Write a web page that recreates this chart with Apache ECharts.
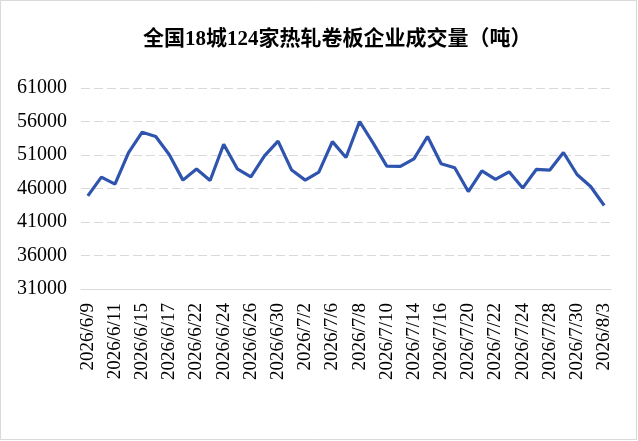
<!DOCTYPE html>
<html>
<head>
<meta charset="utf-8">
<script src="https://cdn.jsdelivr.net/npm/echarts@6/dist/echarts.min.js"></script>
<style>
html,body{margin:0;padding:0;background:#fff;}
#main{width:638px;height:441px;}
</style>
</head>
<body>
<div id="main"></div>
<script>
// 成交日期
var dates=['2026/6/9','2026/6/10','2026/6/11','2026/6/12','2026/6/15','2026/6/16','2026/6/17','2026/6/18',
 '2026/6/22','2026/6/23','2026/6/24','2026/6/25','2026/6/26','2026/6/29','2026/6/30',
 '2026/7/1','2026/7/2','2026/7/3','2026/7/6','2026/7/7','2026/7/8','2026/7/9','2026/7/10',
 '2026/7/13','2026/7/14','2026/7/15','2026/7/16','2026/7/17','2026/7/20','2026/7/21','2026/7/22',
 '2026/7/23','2026/7/24','2026/7/27','2026/7/28','2026/7/29','2026/7/30','2026/7/31','2026/8/3'];
// 成交量（吨）
var volume=[44900,47700,46650,51370,54400,53760,51030,47250,
 48900,47200,52600,48940,47750,50880,53070,
 48750,47250,48450,53000,50630,56000,52780,49340,
 49290,50430,53760,49690,49090,45550,48640,47350,
 48490,46060,48840,48750,51370,48090,46300,43460];
var yMin=31000, yMax=61000, yStep=5000;
var titleText='全国18城124家热轧卷板企业成交量（吨）';

var chart=echarts.init(document.getElementById('main'));
var option={
  animation:false,
  backgroundColor:'#fff',
  title:{
    text:titleText,
    left:138,
    top:24,
    textStyle:{fontFamily:'Liberation Serif, Noto Sans CJK SC',fontSize:21,fontWeight:'bold',color:'#000'}
  },
  graphic:[{
    type:'rect',
    shape:{x:0.5,y:0.5,width:636,height:439},
    style:{fill:'none',stroke:'#d9d9d9',lineWidth:1},
    silent:true
  }],
  grid:{left:81,right:27,top:88,bottom:152},
  xAxis:{
    type:'category',
    data:dates,
    boundaryGap:true,
    axisLine:{lineStyle:{color:'#d9d9d9'}},
    axisTick:{show:false},
    axisLabel:{
      interval:1,
      rotate:90,
      margin:14,
      fontFamily:'Liberation Serif',
      fontSize:19,
      color:'#000'
    }
  },
  yAxis:{
    type:'value',
    min:yMin,
    max:yMax,
    interval:yStep,
    axisLine:{show:false},
    axisTick:{show:false},
    axisLabel:{margin:14,fontFamily:'Liberation Serif',fontSize:20,color:'#000',
      formatter:function(v){return String(v);}},
    splitLine:{lineStyle:{color:'#d9d9d9',type:[9,4]}}
  },
  series:[{
    type:'line',
    data:volume,
    showSymbol:false,
    lineStyle:{color:'#2E54AE',width:3.2},
    itemStyle:{color:'#2E54AE'}
  }]
};
chart.setOption(option);
</script>
</body>
</html>
